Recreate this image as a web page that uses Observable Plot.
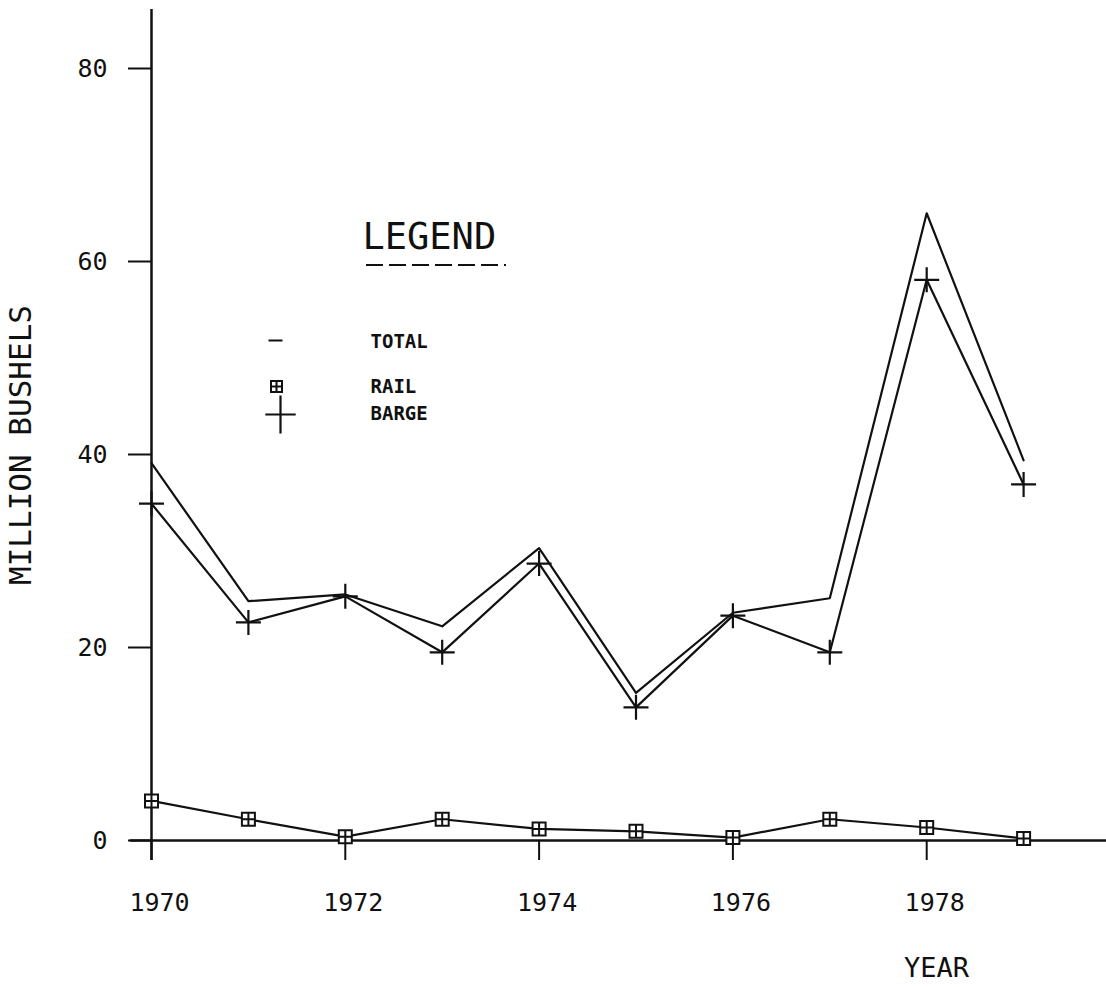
<!DOCTYPE html>
<html>
<head>
<meta charset="utf-8">
<script src="https://cdn.jsdelivr.net/npm/d3@7"></script>
<script src="https://cdn.jsdelivr.net/npm/@observablehq/plot@0.6"></script>
<style>
  html, body { margin: 0; padding: 0; background: #fff; }
  #chart svg { display: block; }
</style>
</head>
<body>
<div id="chart"></div>
<script>
// ---- data ----
const years = [1970, 1971, 1972, 1973, 1974, 1975, 1976, 1977, 1978, 1979];
const total = [39.1, 24.8, 25.5, 22.2, 30.3, 15.3, 23.6, 25.1, 65.0, 39.4];
const barge = [34.9, 22.6, 25.3, 19.5, 28.7, 13.8, 23.3, 19.5, 58.1, 36.9];
const rail  = [4.1, 2.2, 0.4, 2.2, 1.2, 0.95, 0.3, 2.2, 1.35, 0.2];
const xTicks = [1970, 1972, 1974, 1976, 1978];
const yTicks = [0, 20, 40, 60, 80];
const legendLabels = ["TOTAL", "RAIL", "BARGE"];

const totalData = years.map((y, i) => ({year: y, value: total[i]}));
const bargeData = years.map((y, i) => ({year: y, value: barge[i]}));
const railData  = years.map((y, i) => ({year: y, value: rail[i]}));

// custom symbols (radius-based)
const boxPlus = {
  draw(ctx, size) {
    const r = Math.sqrt(size / Math.PI);
    ctx.moveTo(-r, -r); ctx.lineTo(r, -r); ctx.lineTo(r, r); ctx.lineTo(-r, r); ctx.closePath();
    ctx.moveTo(-r, 0); ctx.lineTo(r, 0);
    ctx.moveTo(0, -r); ctx.lineTo(0, r);
  }
};
const linePlus = {
  draw(ctx, size) {
    const r = Math.sqrt(size / Math.PI);
    ctx.moveTo(-r, 0); ctx.lineTo(r, 0);
    ctx.moveTo(0, -r); ctx.lineTo(0, r);
  }
};
const tallPlus = {
  draw(ctx, size) {
    const r = Math.sqrt(size / Math.PI);
    ctx.moveTo(-r * 0.8, 0); ctx.lineTo(r * 0.8, 0);
    ctx.moveTo(0, -r); ctx.lineTo(0, r);
  }
};
const dashSym = {
  draw(ctx, size) {
    const r = Math.sqrt(size / Math.PI);
    ctx.moveTo(-r, 0); ctx.lineTo(r, 0);
  }
};

const W = 1106, H = 987;
const mL = 151, mR = 0, mT = 9, mB = 147;
const pxPerYear = 96.9, pxPerUnit = 9.65;
const xMax = 1970 + (W - mL - mR) / pxPerYear;
const yMax = (H - mB - mT) / pxPerUnit;
const font = "'DejaVu Sans Mono', 'Liberation Mono', monospace";

const chart = Plot.plot({
  width: W,
  height: H,
  marginLeft: mL,
  marginRight: mR,
  marginTop: mT,
  marginBottom: mB,
  style: {fontFamily: font, fontSize: "25px", color: "#111", background: "#fff"},
  x: {domain: [1970, xMax], clamp: false},
  y: {domain: [0, yMax], clamp: false},
  marks: [
    // axes
    Plot.axisY({ticks: yTicks, tickSize: 23, tickPadding: 21, strokeWidth: 2, label: null, fontSize: 25, tickFormat: d => String(d)}),
    Plot.ruleX(xTicks, {y1: 0, y2: -20 / pxPerUnit, stroke: "#111", strokeWidth: 2}),
    Plot.axisX({ticks: xTicks, tickSize: 0, tickPadding: 53, label: null, fontSize: 25, tickFormat: d => String(d), dx: 8}),
    Plot.ruleX([1970], {y1: -20 / pxPerUnit, y2: yMax, stroke: "#111", strokeWidth: 2.5}),
    Plot.ruleY([0], {x1: 1970 - 21 / pxPerYear, x2: xMax, stroke: "#111", strokeWidth: 2.5}),
    // series lines
    Plot.line(totalData, {x: "year", y: "value", stroke: "#111", strokeWidth: 2.2}),
    Plot.line(bargeData, {x: "year", y: "value", stroke: "#111", strokeWidth: 2.2}),
    Plot.line(railData, {x: "year", y: "value", stroke: "#111", strokeWidth: 2.2}),
    // markers
    Plot.dot(bargeData, {x: "year", y: "value", symbol: linePlus, r: 12.5, stroke: "#111", strokeWidth: 2.2, fill: "none"}),
    Plot.dot(railData, {x: "year", y: "value", symbol: boxPlus, r: 6.5, stroke: "#111", strokeWidth: 2, fill: "#fff"}),
    // axis titles
    Plot.text(["MILLION BUSHELS"], {text: d => d, frameAnchor: "left", dx: 21 - mL, dy: 20, rotate: -90, textAnchor: "middle", lineAnchor: "middle", fontSize: 31, fill: "#111"}),
    Plot.text(["YEAR"], {text: d => d, frameAnchor: "bottom", dx: 936 - (mL + W - mR) / 2, dy: 128, textAnchor: "middle", lineAnchor: "middle", fontSize: 27, fill: "#111"}),
    // legend
    Plot.text(["LEGEND"], {text: d => d, frameAnchor: "top-left", dx: 362 - mL, dy: 237 - mT, textAnchor: "start", lineAnchor: "middle", fontSize: 37, fill: "#111"}),
    Plot.text([legendLabels[0]], {text: d => d, frameAnchor: "top-left", dx: 370 - mL, dy: 341 - mT, textAnchor: "start", lineAnchor: "middle", fontSize: 19, fontWeight: "bold", fill: "#111"}),
    Plot.text([legendLabels[1]], {text: d => d, frameAnchor: "top-left", dx: 370 - mL, dy: 386 - mT, textAnchor: "start", lineAnchor: "middle", fontSize: 19, fontWeight: "bold", fill: "#111"}),
    Plot.text([legendLabels[2]], {text: d => d, frameAnchor: "top-left", dx: 370 - mL, dy: 413 - mT, textAnchor: "start", lineAnchor: "middle", fontSize: 19, fontWeight: "bold", fill: "#111"}),
    Plot.dot([0], {frameAnchor: "top-left", dx: 275 - mL, dy: 340 - mT, symbol: dashSym, r: 7, stroke: "#111", strokeWidth: 2}),
    Plot.dot([0], {frameAnchor: "top-left", dx: 276 - mL, dy: 386 - mT, symbol: boxPlus, r: 5.5, stroke: "#111", strokeWidth: 2, fill: "none"}),
    Plot.dot([0], {frameAnchor: "top-left", dx: 280 - mL, dy: 414 - mT, symbol: tallPlus, r: 19, stroke: "#111", strokeWidth: 2.2, fill: "none"})
  ]
});

// dashed underline of the legend title
d3.select(chart).append("line")
  .attr("x1", 366).attr("x2", 506).attr("y1", 265).attr("y2", 265)
  .attr("stroke", "#111").attr("stroke-width", 2).attr("stroke-dasharray", "17,6");

document.getElementById("chart").appendChild(chart);
</script>
</body>
</html>
